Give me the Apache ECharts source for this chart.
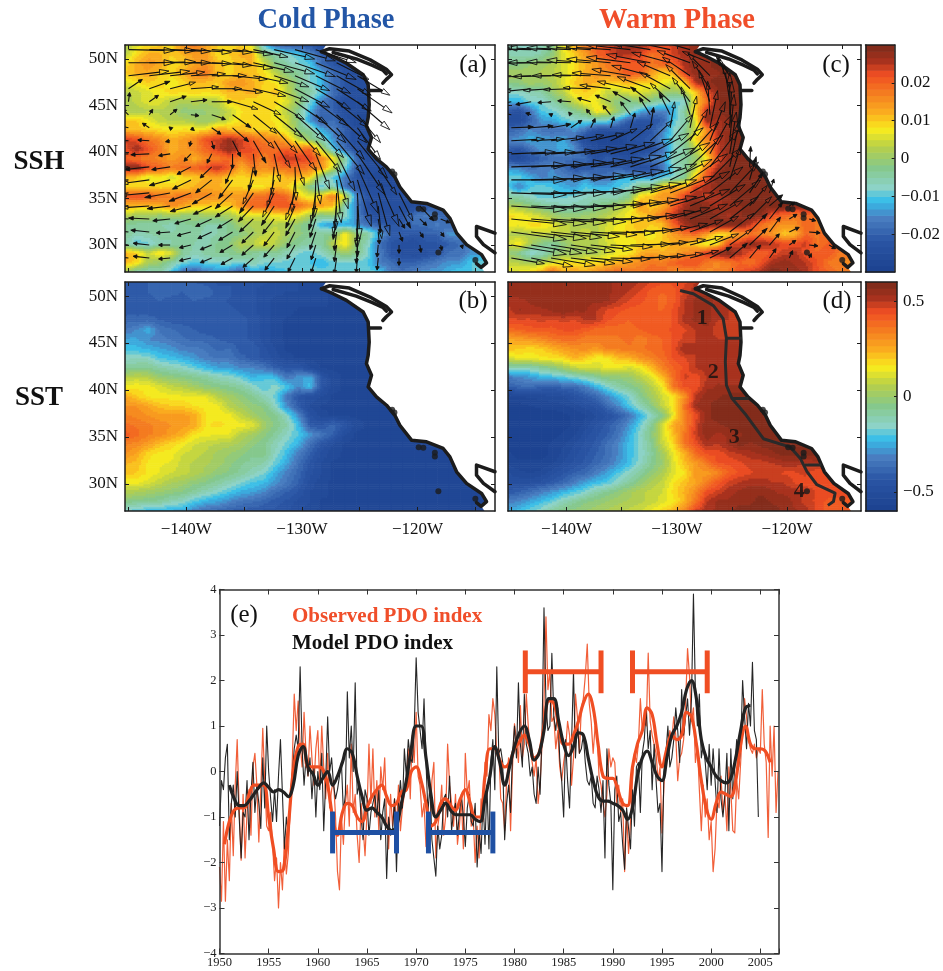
<!DOCTYPE html>
<html><head><meta charset="utf-8">
<script src="https://cdn.jsdelivr.net/npm/echarts@6/dist/echarts.min.js"></script>
<style>html,body{margin:0;padding:0;background:#fff}#c{width:943px;height:971px}</style>
</head><body><div id="c"></div>
<script>
// SSH anomaly in mm on a 1 deg lon x ~1 deg lat grid, north to south. Short rows stop at the coast.
const sshCold=[
[2,6,9,10,9,15,18,13,10,9,10,6,-10,-18,-20,-20,-22,-25],
[3,9,12,12,10,12,14,14,9,10,12,12,-1,-4,-8,-10,-14,-20,-22],
[9,12,15,13,9,10,13,15,11,9,11,12,6,-2,-5,-8,-10,-18,-22,-24,-25],
[10,12,13,10,9,12,16,18,11,9,12,11,9,4,-2,-3,-8,-12,-18,-22,-24],
[6,8,10,9,7,9,12,11,10,14,15,12,10,8,3,-3,-8,-12,-18,-22,-25],
[3,4,6,8,9,9,9,9,9,12,11,13,9,11,4,-2,-4,-10,-18,-22,-25],
[2,4,6,6,3,2,3,2,3,9,10,8,9,9,6,0,-8,-16,-20,-24,-25],
[3,2,3,3,2,-1,-1,0,1,4,8,10,9,8,3,-3,-12,-20,-20,-24,-25],
[10,10,7,4,3,3,1,0,2,5,9,10,9,8,5,-2,-14,-20,-18,-22,-26],
[12,11,10,9,8,9,9,9,14,12,11,10,10,9,6,-2,-3,-12,-16,-20,-25],
[24,22,18,16,12,14,16,22,24,27,24,20,17,16,12,4,-1,-6,-14,-20,-25],
[22,27,22,18,12,14,16,20,24,28,24,22,20,19,21,17,20,4,-10,-18,-24,-26],
[20,18,17,16,14,16,12,16,17,20,17,21,16,21,25,24,23,16,8,-4,-18,-24,-25],
[28,29,22,20,17,19,20,22,26,21,12,17,15,17,19,19,17,15,5,-8,-20,-24,-25,-25],
[12,10,6,8,5,9,10,12,13,10,9,10,10,8,12,12,9,-4,-10,-16,-22,-25,-26,-26,-26],
[9,9,10,9,10,10,12,13,12,10,10,8,8,12,10,5,-2,-10,-5,-18,-22,-25,-25,-25,-25,-25],
[21,22,21,18,17,18,17,16,15,14,14,18,19,22,19,10,6,10,18,6,-16,-22,-25,-25,-25,-25,-25],
[12,11,11,12,16,14,10,10,10,10,15,20,20,21,22,19,15,14,11,-6,-16,-24,-25,-25,-25,-25,-22,-20],
[3,2,2,0,2,0,0,1,1,2,5,6,6,8,9,7,2,-2,0,-6,-15,-22,-25,-25,-22,-18,-16,-18,-20],
[-3,-4,-4,-5,-6,-4,-3,-5,-5,-3,1,2,2,3,2,-1,-4,-12,-14,-12,-14,-18,-20,-22,-20,-18,-18,-16,-18,-18],
[-3,-6,-5,-4,-5,-4,-4,-6,-5,-3,-2,1,3,5,1,-1,-3,-4,-2,8,0,-4,-12,-20,-20,-22,-20,-20,-14,-14,-16],
[-5,-10,-9,-6,-5,-4,-5,-6,-3,-2,3,3,7,3,-1,-3,-5,-4,3,9,-1,-7,-18,-22,-24,-25,-22,-22,-20,-18,-16],
[12,10,4,9,6,-3,-6,-4,-3,-3,-1,-3,-5,-3,-6,-8,-10,-7,-3,1,-2,-8,-16,-22,-24,-25,-24,-22,-18,-18,-14,-14,-14],
[12,9,2,0,-4,-8,-10,-9,-8,-7,-9,-5,-8,-8,-9,-10,-10,-12,-9,-9,-9,-10,-16,-18,-20,-20,-18,-16,-14,-14,-10,-9,-9],
[2,-5,-6,-5,-10,-18,-20,-16,-15,-16,-20,-13,-14,-12,-10,-10,-9,-9,-9,-9,-8,-9,-10,-16,-18,-16,-14,-14,-12,-10,-10,-9,-9]
];
const sshWarm=[
[-6,-7,-7,-6,-3,7,12,18,20,23,26,28,27,25,22,24,26,28,30],
[-5,-6,-6,-5,-1,6,10,14,20,22,26,25,23,18,20,24,26,28,28,29],
[-3,-2,0,1,2,6,8,12,14,18,20,20,22,18,20,20,26,28,28,29,30],
[2,1,1,2,3,5,9,12,15,15,18,22,20,14,9,12,24,28,28,28,29,30],
[-2,-1,1,0,2,6,10,12,12,10,10,12,9,10,8,5,10,26,28,29,29,30],
[-8,-7,-6,-5,0,3,9,10,8,4,4,6,6,4,1,0,2,10,22,28,30,30],
[-12,-12,-8,-8,-5,-1,4,8,7,2,-2,-3,0,-3,-6,-9,-8,9,18,28,30,30],
[-22,-24,-18,-10,-9,-6,-3,0,9,6,0,-6,-12,-16,-16,-12,-4,10,26,28,30,30],
[-24,-25,-20,-14,-13,-10,-8,-8,-8,-8,-14,-20,-22,-22,-20,-10,-5,6,28,26,28,30],
[-20,-18,-15,-17,-18,-18,-14,-18,-23,-24,-24,-26,-26,-22,-16,-8,-4,4,16,26,28,30,30],
[-15,-14,-12,-13,-14,-12,-18,-25,-27,-28,-28,-24,-22,-20,-14,-8,-3,10,16,24,28,30],
[-20,-22,-18,-14,-14,-12,-14,-22,-26,-28,-28,-28,-26,-24,-18,-8,-4,2,13,24,28,30,30],
[-24,-26,-22,-20,-18,-18,-18,-18,-24,-20,-22,-24,-20,-16,-14,-6,-4,0,8,22,28,30,30],
[-14,-15,-18,-16,-15,-18,-22,-22,-20,-20,-20,-22,-24,-24,-18,-8,-4,3,18,26,30,30,30,30],
[-9,-9,-12,-16,-14,-15,-16,-14,-18,-17,-12,-12,-12,-14,-10,-8,-3,10,22,30,30,30,30,30],
[-10,-16,-10,-9,-10,-12,-14,-10,-12,-12,-10,-8,-2,-1,10,13,12,23,26,28,30,30,30,30,30],
[-4,-5,-7,-10,-9,-9,-8,-7,-6,-6,-6,-2,9,11,15,15,24,27,24,26,28,30,30,30,30,30,30],
[2,1,-1,-3,-5,-6,-6,-5,-3,-1,2,5,15,10,12,20,26,30,28,26,28,28,30,30,29,30,28],
[9,8,6,4,1,-1,-1,0,1,3,5,8,10,13,18,24,30,30,30,28,26,28,30,28,22,20,18,20,18],
[8,7,9,9,7,4,3,3,3,5,7,9,12,10,11,20,26,30,30,30,30,29,24,18,16,15,15,20,18],
[3,2,3,4,4,4,3,4,3,6,8,9,9,7,10,14,18,20,14,8,9,14,18,17,15,10,12,20,18,20],
[5,9,2,-2,-4,-1,2,3,3,5,7,7,9,9,10,12,12,9,6,8,22,24,28,27,25,22,22,24,18,20],
[0,-3,-8,-7,-2,0,1,1,2,5,7,8,12,14,12,13,16,18,24,28,30,26,22,20,22,24,26,22,20,22,18],
[4,3,1,3,5,8,8,9,9,10,12,14,16,18,17,20,22,22,18,16,18,20,18,22,26,28,26,25,22,18,17,15],
[6,7,9,12,20,12,14,12,15,18,20,18,18,20,20,16,16,17,16,17,18,22,24,26,30,28,28,26,22,20,18,17,15]
];
// SST anomaly in hundredths of a degree.
const sstCold=[
[-40,-40,-40,-40,-40,-40,-40,-42,-44,-44,-46,-46,-46,-48,-50,-50,-50,-52],
[-42,-42,-40,-38,-38,-40,-38,-36,-42,-42,-46,-46,-48,-48,-50,-50,-52,-52,-54,-54],
[-42,-42,-42,-40,-42,-42,-40,-42,-42,-44,-46,-46,-48,-52,-52,-52,-52,-52,-54,-54,-54],
[-42,-42,-42,-42,-42,-42,-40,-42,-40,-42,-44,-46,-48,-52,-52,-54,-54,-54,-54,-54,-54],
[-38,-38,-38,-40,-42,-42,-42,-42,-42,-42,-42,-44,-48,-52,-54],
[-34,-30,-24,-34,-36,-38,-40,-42,-42,-40,-42,-44,-48,-52,-54],
[-26,-26,-30,-32,-34,-36,-38,-38,-40,-42,-42,-44,-48,-52,-54],
[-22,-22,-24,-26,-28,-32,-32,-34,-38,-36,-42,-40,-46,-50,-54],
[-14,-14,-14,-20,-22,-24,-28,-32,-34,-34,-38,-42,-44,-48,-52,-54],
[-8,-6,-6,-10,-12,-14,-18,-22,-26,-26,-30,-30,-34,-40,-44,-42,-50,-54],
[6,8,6,0,-2,-4,-6,-8,-12,-14,-18,-24,-20,-22,-34,-28,-24,-44,-52,-54],
[14,16,15,12,8,6,2,-2,-4,-6,-8,-14,-20,-14,-20,-30,-22,-44,-52,-54],
[26,20,16,15,15,14,14,13,6,2,-2,-6,-12,-18,-34,-44,-48,-50,-54],
[30,30,26,22,20,20,16,16,15,6,2,-2,-4,-14,-30,-42,-50,-54],
[34,32,30,28,28,28,26,16,15,15,8,2,-2,-6,-14,-30,-46,-52,-54],
[38,36,34,32,30,28,26,16,18,16,15,13,2,-4,-10,-22,-42,-44,-38,-44,-52,-54],
[42,38,34,32,28,24,16,14,14,13,6,2,-2,-8,-14,-20,-28,-34,-40,-50,-54],
[34,32,28,22,18,15,10,8,6,5,2,-2,-6,-12,-18,-24,-36,-44,-50,-54],
[30,26,18,15,15,10,8,6,2,0,-2,-6,-4,-14,-22,-32,-40,-48,-52,-54],
[24,22,16,14,13,8,6,4,2,-2,-6,-8,-10,-18,-26,-36,-44,-50,-54],
[22,20,16,13,10,8,6,2,-2,-4,-8,-12,-16,-24,-32,-38,-46,-50,-54],
[14,15,12,8,4,2,-2,-4,-8,-12,-16,-20,-22,-28,-34,-40,-48,-52,-54],
[6,4,2,0,-2,-4,-8,-12,-16,-20,-24,-26,-30,-36,-40,-44,-50,-52,-54],
[-4,-6,-6,-8,-12,-14,-20,-24,-26,-30,-34,-36,-38,-42,-44,-48,-50,-54],
[-14,-20,-22,-24,-24,-26,-32,-36,-38,-40,-42,-42,-44,-44,-46,-50,-52,-54]
];
const sstWarm=[
[54,56,56,56,56,56,56,54,54,54,52,52,50,46,44,44,46,50,50,50],
[54,56,56,56,56,56,56,54,54,54,52,50,46,42,40,42,48,52,52,52,52],
[52,52,54,56,56,56,54,54,54,54,50,46,44,42,38,42,50,54,56,52,52],
[48,54,52,52,54,56,54,54,50,46,44,42,42,40,40,44,50,54,56,50,50,48],
[46,46,46,48,46,48,46,50,50,44,42,40,42,42,40,44,52,54,56,50,50,50],
[38,40,42,42,42,44,44,42,38,38,38,38,40,42,42,44,46,50,52,48,48],
[26,28,30,32,36,38,38,34,36,36,36,38,34,38,40,44,48,50,52,50,50],
[22,20,18,20,24,28,30,32,28,34,34,36,36,38,40,44,54,50,52,50,50],
[10,14,14,16,16,18,24,20,15,15,22,24,30,34,38,44,46,50,52,50,50],
[-12,-12,-12,-8,-4,2,8,10,10,15,14,10,14,22,34,40,44,50,52,52,52],
[-34,-30,-28,-24,-22,-20,-16,-12,-8,-2,-2,0,6,12,22,38,48,44,50,52,50],
[-40,-38,-36,-40,-42,-38,-38,-32,-24,-16,-10,-6,-2,6,14,36,44,44,52,54,54],
[-55,-54,-52,-52,-50,-50,-46,-42,-38,-30,-22,-16,-6,2,10,16,30,50,56,56,58,58],
[-58,-58,-57,-56,-56,-54,-52,-48,-46,-38,-30,-20,-12,-4,8,16,36,54,56,58,58,58,58],
[-58,-58,-58,-58,-58,-58,-56,-54,-50,-46,-42,-34,-24,-14,-4,14,34,44,56,58,58,58,58,58],
[-58,-58,-58,-58,-58,-58,-56,-52,-46,-42,-36,-28,-18,-6,10,26,32,48,56,56,58,58,58,58,58],
[-58,-58,-58,-58,-58,-56,-54,-48,-44,-40,-34,-24,-14,-4,10,22,36,48,56,52,54,56,58,58,58,58],
[-58,-58,-58,-58,-56,-54,-50,-46,-42,-36,-30,-22,-16,-6,8,18,36,44,52,50,54,58,56,58,58,58,58],
[-56,-58,-58,-58,-56,-52,-48,-44,-40,-36,-30,-22,-16,-8,2,14,24,38,44,44,48,50,52,54,56,58,58,58,58],
[-54,-56,-56,-56,-54,-50,-46,-42,-38,-34,-28,-22,-14,-6,0,12,22,28,36,44,44,46,48,48,50,52,52,50,52,48],
[-50,-52,-54,-52,-48,-44,-40,-38,-32,-26,-20,-14,-8,-2,4,12,16,30,28,32,40,44,46,48,48,46,46,48,44,46],
[-48,-48,-48,-46,-42,-38,-32,-26,-22,-20,-14,-8,-2,4,8,16,22,26,34,42,48,50,52,52,50,50,46,44,44,46],
[-42,-40,-36,-32,-28,-24,-20,-16,-10,-6,-2,2,6,8,10,18,24,32,44,48,52,54,56,56,54,52,52,50,46,46],
[-32,-30,-26,-22,-18,-12,-8,-4,-2,0,2,4,6,8,12,15,24,36,50,54,54,56,56,58,56,56,52,48,46,42],
[-26,-22,-18,-14,-8,-4,-2,0,2,4,6,8,10,14,18,24,32,48,52,54,56,58,58,58,58,56,54,52,46,42]
];
// Wind arrows: [dLon, dLat] per tail, rows every 1.4 deg lat from 51N, columns every 1.8 deg lon from 145W.
const windCold=[
[[4,-.1],[4,-.1],[3.5,-.2],[3.5,-.3],[3.5,-.3],[3.5,-.5],[3,-.8],[3.5,-1],[3.5,-1.2],[3.5,-1.4]],
[[4,0],[4,.1],[3.5,0],[3.5,-.1],[3.5,-.3],[3.5,-.6],[3.5,-1],[3.5,-1.2],[3.5,-1.5],[3.5,-1.8],[2.8,-1.8]],
[[3.5,.5],[3.5,.5],[3,.4],[3,.2],[3,0],[3,-.4],[3,-.8],[3,-1.2],[3,-1.6],[3,-1.9],[3,-2.1],[2.8,-2.1]],
[[1.2,1],[1.8,.8],[2.2,.7],[2.4,.2],[2.6,0],[2.6,-.4],[2.8,-.8],[3,-1.4],[3,-2],[3,-2.2],[3,-2.4],[3,-2.6]],
[[.1,1],[.8,.7],[1.4,.6],[1.4,.2],[1.8,0],[2.2,-.8],[2.4,-1.4],[2.6,-1.9],[2.8,-2.4],[2.8,-2.6],[2.8,-2.8],[2.8,-3]],
[[-.5,.6],[.3,.6],[.6,.6],[.7,-.1],[1.2,-.5],[1.6,-1.4],[2,-2],[2.4,-2.4],[2.6,-2.8],[2.6,-3],[2.6,-3],[2,-3]],
[[-1,.3],[-.6,.5],[-.1,.1],[.3,-.3],[.8,-.7],[1.4,-1.5],[1.8,-2.2],[2,-2.7],[2.2,-3],[2.4,-3.2],[2.4,-3.4],[2,-3.4]],
[[-1.6,.1],[-1,.1],[-.4,-.1],[-.1,-.6],[.2,-.9],[.7,-1.7],[1.1,-2.4],[1.4,-2.9],[1.8,-3.2],[2.2,-3.4],[2.4,-3.6],[2.6,-4]],
[[-2.4,-.1],[-1.6,-.1],[-1,-.2],[-.6,-.8],[-.4,-1],[0,-1.6],[.2,-2.4],[.5,-3],[.8,-3.4],[1.2,-3.8],[1.6,-4],[2.4,-4.4]],
[[-2.6,-.2],[-2.2,-.3],[-1.6,-.3],[-1.2,-.8],[-1,-1.2],[-.6,-1.8],[-.4,-2.6],[-.2,-3],[.1,-3.6],[.4,-4],[1,-4.5],[1.8,-5],[1.6,-3]],
[[-3,-.2],[-2.4,-.4],[-1.8,-.6],[-1.6,-1],[-1.4,-1.4],[-1.2,-2],[-.9,-2.6],[-.6,-3],[-.3,-3.4],[-.1,-4],[.4,-4.6],[1.2,-5],[1.8,-5]],
[[-3,-.3],[-2.6,-.3],[-2.2,-.5],[-1.9,-.9],[-1.7,-1.2],[-1.5,-1.7],[-1.2,-2.2],[-1,-2.6],[-.8,-2.9],[-.4,-3.2],[-.1,-4],[.2,-5],[1,-4.6],[1.2,-3]],
[[-3,-.2],[-2.4,-.2],[-2,-.3],[-1.8,-.6],[-1.6,-.9],[-1.5,-1.2],[-1.3,-1.7],[-1.1,-2.1],[-.8,-2.4],[-.6,-2.6],[-.3,-3],[0,-4.5],[.3,-3.5],[1,-2.4],[1.2,-1.6]],
[[-2.4,.2],[-1.8,.1],[-1.5,-.2],[-1.4,-.5],[-1.4,-.8],[-1.3,-1],[-1.2,-1.4],[-1,-1.6],[-.8,-1.8],[-.5,-2],[-.3,-2.2],[-.1,-3],[.2,-1.5],[.5,-1],[.6,-.7],[.8,-.4]],
[[-2,.3],[-1.6,.2],[-1.2,-.1],[-1.2,-.4],[-1.2,-.7],[-1.2,-.9],[-1,-1.2],[-.9,-1.5],[-.7,-1.7],[-.5,-1.9],[-.2,-2],[0,-2.7],[.1,-1.3],[.3,-1],[.3,-.6],[.3,-.5]],
[[-2,.3],[-1.4,.2],[-1,0],[-1,-.3],[-1,-.5],[-1.1,-.8],[-1,-1.1],[-.9,-1.3],[-.7,-1.5],[-.4,-1.6],[-.2,-1.8],[-.1,-2],[-.1,-1.3],[0,-.9],[.1,-.8],[.1,-.6],[.1,-.4]],
[[-2.2,.3],[-1.4,.2],[-1,-.1],[-1,-.3],[-1,-.5],[-1,-.7],[-.9,-1],[-.8,-1.3],[-.6,-1.5],[-.4,-1.6],[-.2,-1.7],[-.1,-1.6],[-.1,-1.3],[0,-.8]]
];
const windWarm=[
[[-4,.1],[-4,.1],[-4,.2],[-4,.2],[-4,.3],[-4,.3],[-4,.5],[-3.5,.7],[-3.5,.9],[-3,1]],
[[-4,-.1],[-4,-.1],[-4,0],[-4,.1],[-4,.3],[-4,.4],[-4,.6],[-4,.9],[-3.5,1.1],[-3,1.3],[-2.5,1.2]],
[[-3.5,-.1],[-3.5,-.2],[-3.5,-.1],[-3.5,0],[-3.5,.1],[-3.5,.3],[-3.5,.7],[-3.5,1.1],[-3,1.5],[-2.5,2],[-2,2.4],[-1.2,2]],
[[-2.5,-.3],[-2.5,-.3],[-2.5,-.2],[-2.5,-.1],[-2.5,.1],[-2.8,.4],[-3,.8],[-3,1.3],[-2.8,1.8],[-2.2,2.6],[-1.6,3],[-1,3.4]],
[[-1.4,-.3],[-1.4,-.3],[-1.2,-.1],[-1.2,.1],[-1.2,.4],[-1.4,.7],[-1.6,1.1],[-1.8,1.6],[-1.8,2],[-1.6,2.6],[-1,3.4],[-.5,4]],
[[-.8,.2],[-.5,.2],[-.2,.1],[-.2,.3],[-.4,.6],[-.7,1],[-.9,1.4],[-1,1.9],[-1,2.4],[-.8,3],[-.2,3.6],[0,4.5]],
[[2,.1],[2,.2],[1.8,.4],[1,.8],[.4,1],[.3,1.2],[.4,1.6],[.3,2.2],[.4,2.8],[.6,3.4],[.7,4],[.2,5]],
[[3,.2],[3,.2],[3,.4],[3,.6],[3,.8],[2.4,1.3],[2,1.8],[2,2.2],[2,2.8],[1.6,3.4],[1.4,4.2],[.4,5]],
[[4,.2],[4,.2],[4,.3],[4.2,.6],[4.2,.9],[4,1.2],[3.8,1.6],[3.5,2.2],[3,2.8],[2.6,3.4],[2,4.2],[.6,4.5]],
[[5,.2],[5,.3],[5,.5],[5,.7],[4.8,.9],[4.6,1.2],[4.2,1.6],[4,2],[3.6,2.6],[3,3.4],[2.6,4],[.9,5],[.1,2.2]],
[[5,0],[5,.2],[5,.3],[5,.5],[5,.8],[4.8,1],[4.6,1.3],[4.2,1.7],[3.8,2.2],[3.4,2.8],[2.8,3.4],[1,3.6],[.6,2.5]],
[[5,-.2],[5,-.1],[5,0],[5,.2],[5,.4],[4.8,.7],[4.6,1],[4.2,1.4],[4,1.8],[3.6,2.3],[3,2.8],[2.6,3.3],[1.2,2.2],[.4,1.5]],
[[5,-.4],[5,-.3],[5,-.2],[5,-.1],[5,.2],[4.6,.4],[4.4,.7],[4.2,1],[4,1.4],[3.6,1.8],[3.2,2.3],[2.8,2.8],[1.6,2.2],[1.2,1.2],[.5,.4]],
[[5,-.6],[5,-.5],[5,-.4],[5,-.3],[4.8,-.1],[4.4,.1],[4.2,.4],[4,.8],[3.6,1.2],[3.4,1.6],[3,2],[2.6,2.4],[2,2.4],[1.2,1.8],[.7,.5],[.6,-.2]],
[[5,-.8],[5,-.7],[4.6,-.6],[4.4,-.5],[4.2,-.3],[4,-.1],[3.8,.2],[3.6,.5],[3.4,.9],[3,1.3],[2.6,1.7],[2.2,2],[1.6,2],[1,1.6],[.9,.5],[1,-.1]],
[[5,-1],[4.6,-.9],[4.2,-.8],[4,-.7],[3.8,-.5],[3.8,-.2],[3.6,.1],[3.4,.3],[3.2,.6],[3,.9],[2.6,1.2],[2,1.7],[1.6,1.8],[.9,1.2],[.6,.5],[.8,-.1],[.6,-.4]],
[[3,-.6],[3.8,-.9],[4,-.8],[4,-.6],[3.8,-.4],[3.6,-.1],[3.4,.1],[3.2,.3],[3,.5],[2.6,.8],[2,1.2],[1.6,1.6],[1,1.4],[.6,1],[.3,.8],[.2,.5]]
];
// Coastline in lon/lat
const coast=[[-128.31,50.78],[-127.30,50.25],[-126.15,49.54],[-124.70,48.30],[-124.27,47.23],[-124.18,45.10],[-124.27,43.69],[-124.42,42.80],[-123.98,41.56],[-124.27,40.32],[-123.55,39.26],[-122.68,38.37],[-121.96,37.30],[-121.53,36.24],[-120.52,34.65],[-119.22,34.47],[-117.78,33.76],[-117.20,32.87],[-116.62,31.28],[-115.76,30.04],[-114.46,28.97],[-114.03,28.09],[-114.5,27.6],[-114.9,28.0]];
const landClose=[[-114.5,27.6],[-114.2,27.1],[-113.3,27.1],[-113.3,51.5],[-127.9,51.5]];
const islandOuter=[[-128.31,50.78],[-127.6,51.1],[-125.9,50.85],[-124.1,49.9],[-122.7,48.9],[-122.25,48.3],[-122.7,47.8],[-123,47.4]];
const islandInner=[[-127.3,50.7],[-125.3,50.0],[-123.9,49.3],[-123,48.8],[-122.7,48.4]];
const gulfCoast=[[-113.3,31.28],[-114.9,31.99],[-114.9,30.92],[-114.3,30.04],[-113.3,29.15]];
const coastStub=[[-124.2,46.6],[-123.2,46.6]];
const coastBlobs=[[-122.2,37.9],[-122.0,37.6],[-119.9,33.9],[-119.5,33.85],[-118.5,33.3],[-118.5,32.9],[-118.2,29.2],[-115,28.4]];
const regionLine=[[-129.7,50.6],[-128.5,50.25],[-126.7,49],[-125.8,47.6],[-125.5,45.5],[-125.6,43],[-125.5,40.5],[-125,39.1],[-123.7,37.3],[-122.15,34.8],[-119.7,33.9],[-118.8,32.7],[-118.2,31.3],[-117.3,29.9],[-115.65,29],[-115.8,28.1],[-116.3,27.7]];
const regionCuts=[[[-125.5,45.5],[-124.1,45.5]],[[-125,39.1],[-123.5,39.1]],[[-118.4,32],[-116.9,32]]];
const regionLabels=[[-127.7,47.6,'1'],[-126.7,41.9,'2'],[-124.8,34.9,'3'],[-118.9,29.2,'4']];
// PDO index, five readings per year from 1950
const obsThin=[-2.1,-2.85,-1.1,-2.85,-1.5,-2.4,-.7,-1.85,-.3,.7,-.8,-1.95,-.5,-1.9,-.9,-.4,-1.4,.1,.4,-.3,-1.55,-.4,.95,-.2,-1.2,-1.3,-.9,-1.6,-2.4,-1.9,-3,-2,-2.6,-1.5,-2.25,-1.8,-.8,.2,1.7,.9,1.55,.6,.1,1.3,.4,-.1,1,.3,-.3,.5,.9,-.3,1,.1,-.6,.4,-.8,-.4,-.2,-1,-2.2,-2.6,-1,-1.6,-.7,-.3,-1.2,.6,-.9,-.5,-1.4,-2,-.7,-1.2,-1.85,-.9,.6,-.7,.5,-1,-.2,-1.3,.1,-.4,.3,-1,-1.7,-.5,-1.2,-.6,-1.2,-.3,-1.3,-.8,-.5,-.2,.5,-.6,.8,.2,1.3,-.1,-.3,-1,-.7,-1.65,-1.2,-1.5,-.2,.2,-1.9,-1.2,-.9,-.3,-1.4,-1,.6,-.3,-.7,-1.2,-.5,-1.6,-1.2,-.6,-1.7,.4,-.5,-.2,-1.2,-1,-2,-1.2,-1.9,-.6,-1.1,.2,-.1,1.25,.9,1.6,1.25,.4,.5,-.6,-.7,-1.3,-.2,.3,-1.3,.1,1.05,.7,.2,1.45,.3,.6,1.7,1,.5,.2,-.1,.3,-.7,-.3,.6,1.5,3.4,1.8,2.2,1.1,1.2,.5,.9,.1,-.2,.2,.5,1.1,.8,-.3,.3,1.7,1.2,.4,1.4,1.6,2.1,2.8,1.5,1.1,.4,1,.8,-.1,-.3,-.7,-1,-.5,.5,.1,.3,.2,-.7,-.3,-.9,-.6,-2.2,-.9,-1.8,-1.1,-.2,.4,.2,.6,1.6,.9,1.1,1,2.6,1.1,.8,.6,.4,-.2,.1,-1.35,-.3,.5,.6,.9,.7,1.2,.8,-.2,.3,.4,.7,1.5,2.7,2.1,1.1,1.4,.2,.6,-.4,-1.3,-.3,-1,-.6,-1.5,-1.1,-2.2,-1.7,-.6,-.8,-.1,-.9,-.5,-1.3,.1,-.4,-1.3,-1.35,-.2,-.6,.2,1,1.6,1.2,.7,.5,.4,.6,.3,.5,.4,1.8,.6,.2,-1.45,1,-.1,1,-.9,0];
const modelThin=[-1.2,-.2,-.4,.3,.6,-1.5,-.7,-.3,-1,0,-1,-1.9,-.9,-1,-.2,-1.5,-.5,.2,-.9,-.3,-.7,-1.25,.3,-.8,1,0,-.6,-1.1,-.4,-1.1,-.1,.7,-.5,-1.7,-1,-1.4,-.5,-.1,.5,.8,.5,2.3,.5,-.3,.3,-.1,.3,-.6,.1,-1,0,-.4,.4,-1.3,-.2,1.2,0,.3,-.3,-.6,-.4,-.1,.2,-.9,-.5,1.75,.3,1,0,1.95,-.5,-.3,-1,-1.5,-.4,-.6,-1.4,-.9,-.9,-.5,-1,-.4,-1.5,-.9,-.6,-2.35,-1,-1.4,-1.3,-.6,-2.2,-.7,-.2,-.8,.5,-.1,.7,.3,.2,.9,2.5,1.3,.9,.5,1.6,.2,-.9,-.3,-1.5,-1.9,-2.3,-1.2,-1.7,-1.4,-.6,-.5,-1,-.1,-1.3,-.9,-.7,-1.4,-.9,-.5,-1,-1.65,-.8,-.5,-1.1,-1.2,-.7,-2.1,-1.3,-1.8,-.6,-1.6,-.3,-1.7,.2,.7,-.4,2.3,.4,.5,.2,-1.5,-.7,-.3,-.9,.4,1,.3,1.95,.6,.1,1.7,.6,.4,-.1,.1,-.5,-.7,.1,-.5,.8,3.6,1.5,.9,1,2.6,1.2,.9,1.4,.3,-.2,-1,.7,-.2,-.8,.6,2.2,.3,1.1,.4,.5,.8,.2,-.2,-.3,-.1,-.7,-.8,-.1,-.4,-.9,-.2,-1.9,.5,-.3,-.7,-2.6,-.4,-.1,-1.1,-.9,-1.6,-2.15,-.8,-.8,-1.7,-.4,-1.2,.1,.2,-.9,.4,.7,1.4,.5,.9,-.4,.6,-.2,-.9,-.7,-2.2,0,.4,1,.1,.3,.7,1.4,.9,.2,1.8,.8,1.2,1.6,.8,1.6,3.9,1.7,1,1.7,.3,.6,.2,-.4,.6,-.3,.5,-.2,-.9,.5,-.6,-1,-.5,.4,-1.3,.5,-.6,.1,.7,.1,.5,2,1.2,.5,1.5,1,2.4,.9,.7,-1];
// Smoothed index, two readings per year
const obsSmooth=[-1.6,-1.1,-.85,-.8,-.8,-.5,-.3,-.3,-.3,-1,-1.7,-2.2,-2.15,-1.2,0,.55,.6,.1,.1,.1,.05,-.3,-1,-1.4,-.9,-.7,-.75,-1,-1.1,-.8,-.55,-.4,-.3,-.55,-.75,-.7,-.45,-.4,0,.1,-.2,-.7,-1.2,-1.1,-.7,-.6,-.75,-.85,-.6,-.4,-.7,-1,-1,-.1,.5,.5,.25,.1,.2,.5,.65,.8,.6,.3,.4,1,1.55,1.5,1,.6,.6,.8,1.1,1.5,1.7,1.4,.6,-.1,-.15,-.15,-.4,-.7,-.75,.1,.6,.9,1.4,1.25,.6,.1,.5,.8,.7,.8,1.3,1.2,.6,-.2,-.8,-1.05,-.7,-.45,-.5,-.55,-.2,.6,1,.6,.5,.5,.45,.2];
const modelSmooth=[-.3,-.6,-.75,-.75,-.65,-.5,-.35,-.25,-.35,-.45,-.4,-.45,-.55,-.3,.35,.55,.1,-.05,-.3,-.15,0,-.3,-.1,.2,.5,.4,-.1,-.55,-.85,-.8,-.9,-1,-1.2,-1.3,-1.2,-.7,-.2,.5,1,1,.3,-.5,-1,-.85,-.7,-.85,-.95,-.95,-.95,-.95,-1.05,-1.1,-.6,-.1,.55,.2,-.3,.1,.55,.85,1,.7,.25,.4,.9,1.6,1.6,1.1,.6,.35,.55,.85,.8,.3,-.2,-.55,-.65,-.65,-.7,-.75,-.85,-1.05,-.8,-.1,.3,.45,.2,-.1,-.2,.3,.8,1,1.3,1.8,2,1.6,.7,.3,.1,-.1,-.2,-.25,-.15,.3,.9,1.4,1.45];
// Phase brackets: [start, end, level, capHalfHeight]
const coldBars=[[1961.5,1968,-1.34,.46],[1971.25,1977.8,-1.34,.46]];
const warmBars=[[1981.1,1988.8,2.19,.47],[1992,1999.6,2.19,.47]];
// Tick positions
const lonTicks=[-145,-140,-135,-130,-125,-120,-115];
const lonLabels=[-140,-130,-120];
const latTicks=[30,35,40,45,50];
const sshBarTicks=[-.02,-.01,0,.01,.02];
const sstBarTicks=[-.5,0,.5];

const COLOR_STOPS=[[0,'#1c418f'],[.14,'#2a55a4'],[.24,'#4a7fc1'],[.315,'#35bdea'],[.375,'#8dd3c7'],[.46,'#85c88c'],[.55,'#b5cf4b'],[.63,'#f8ec1d'],[.7,'#fbb01f'],[.78,'#f58220'],[.87,'#f04e23'],[.93,'#a8321e'],[1,'#7a2a1a']];
const hex=s=>[1,3,5].map(k=>parseInt(s.substr(k,2),16));
function ramp(t){for(let k=1;k<COLOR_STOPS.length;k++){if(t<=COLOR_STOPS[k][0]){const a=COLOR_STOPS[k-1],b=COLOR_STOPS[k],f=(t-a[0])/(b[0]-a[0]),A=hex(a[1]),B=hex(b[1]);return 'rgb('+A.map((x,i)=>Math.round(x+(B[i]-x)*f)).join(',')+')';}}return COLOR_STOPS[COLOR_STOPS.length-1][1];}
const NL=36,BANDS=[];for(let k=0;k<NL;k++)BANDS.push(ramp((k+.5)/NL));
const bandOf=(v,r)=>Math.max(0,Math.min(NL-1,Math.floor((v+r)/(2*r)*NL)));

const LON0=-145.3,LON1=-113.3,LAT1=51.5,LAT0=27.1,LATSTEP=(LAT1-LAT0)/24;
const FONT='"Liberation Serif"';
const INK='#1c1c1c';
const grids=[
 {left:125,top:45,width:370,height:227},{left:125,top:282,width:370,height:229},
 {left:508,top:45,width:353,height:227},{left:508,top:282,width:353,height:229},
 {left:865.5,top:45,width:31.5,height:227},{left:865.5,top:282,width:31.5,height:229},
 {left:219.5,top:589.5,width:559.5,height:364}];
const xAxes=[],yAxes=[],series=[];
const MINUS='\u2212';
function mapAxes(g,showLat,showLon){
 const base={type:'value',gridIndex:g,z:10,splitLine:{show:false},axisLine:{show:true,onZero:false,lineStyle:{color:INK,width:1.5}}};
 const tick=v=>({show:true,inside:true,length:4,customValues:v,lineStyle:{color:INK}});
 const xi=xAxes.length;
 xAxes.push({...base,position:'bottom',min:LON0,max:LON1,axisTick:tick(lonTicks),axisLabel:{show:showLon,customValues:lonLabels,color:'#111',fontFamily:FONT,fontSize:17,margin:10,
   formatter:v=>MINUS+Math.abs(v)+'W'}});
 xAxes.push({...base,position:'top',min:LON0,max:LON1,axisTick:tick(lonTicks),axisLabel:{show:false}});
 const yi=yAxes.length;
 yAxes.push({...base,position:'left',min:LAT0,max:LAT1,axisTick:tick(latTicks),axisLabel:{show:showLat,customValues:latTicks,color:'#111',fontFamily:FONT,fontSize:17,margin:7,
   formatter:v=>v+'N'}});
 yAxes.push({...base,position:'right',min:LAT0,max:LAT1,axisTick:tick(latTicks),axisLabel:{show:false}});
 return [xi,yi];
}
function coastCol(j){const lat=LAT1-j*LATSTEP;let m=-129;for(const c of coast)if(Math.abs(c[1]-lat)<2.4)m=Math.max(m,c[0]);return Math.min(32,Math.ceil(m-LON0)+1);}
function contour(rows,r,xi,yi){
 const n=5,cells=[];
 const val=(i,j)=>{const R=rows[j];return R[Math.min(i,R.length-1)];};
 for(let j=0;j<24;j++){const lim=Math.max(coastCol(j),coastCol(j+1));for(let i=0;i<lim;i++)cells.push([i,j]);}
 series.push({type:'custom',xAxisIndex:xi,yAxisIndex:yi,silent:true,clip:true,z:1,animation:false,data:cells,encode:{x:0,y:1},
  renderItem(p,api){
   const i=api.value(0),j=api.value(1),a=val(i,j),b=val(i+1,j),c=val(i,j+1),d=val(i+1,j+1),ch=[];
   const lon=LON0+i,lat=LAT1-j*LATSTEP;
   for(let q=0;q<n;q++){
    const w=(q+.5)/n;let s=0;
    while(s<n){
     const bandAt=t=>{const u=(t+.5)/n;return bandOf(a*(1-u)*(1-w)+b*u*(1-w)+c*(1-u)*w+d*u*w,r);};
     const k=bandAt(s);let e=s+1;while(e<n&&bandAt(e)===k)e++;
     const p0=api.coord([lon+s/n,lat-q*LATSTEP/n]),p1=api.coord([lon+e/n,lat-(q+1)*LATSTEP/n]);
     ch.push({type:'rect',shape:{x:p0[0],y:p0[1],width:p1[0]-p0[0]+.6,height:p1[1]-p0[1]+.6},style:{fill:BANDS[k]}});
     s=e;
    }
   }
   return {type:'group',children:ch};
  }});
}
function landAndCoast(xi,yi){
 series.push({type:'custom',xAxisIndex:xi,yAxisIndex:yi,silent:true,clip:true,z:2,animation:false,data:[[LON1,LAT1]],encode:{x:0,y:1},
  renderItem(p,api){return {type:'polygon',shape:{points:coast.concat(landClose).map(c=>api.coord(c))},style:{fill:'#fff'}};}});
 for(const l of [coast,islandOuter,islandInner,gulfCoast,coastStub])
  series.push({type:'line',xAxisIndex:xi,yAxisIndex:yi,silent:true,clip:true,z:4,animation:false,showSymbol:false,data:l,lineStyle:{color:INK,width:3.5,cap:'round',join:'round'}});
 series.push({type:'scatter',xAxisIndex:xi,yAxisIndex:yi,silent:true,z:4,animation:false,symbolSize:6,itemStyle:{color:INK},data:coastBlobs});
}
function arrows(rows,xi,yi){
 const data=[];
 rows.forEach((R,j)=>R.forEach((w,i)=>data.push([-145+1.8*i,51-1.4*j,w[0],w[1]])));
 series.push({type:'custom',xAxisIndex:xi,yAxisIndex:yi,silent:true,clip:true,z:5,animation:false,data,encode:{x:0,y:1},
  renderItem(p,api){
   const lo=api.value(0),la=api.value(1),a=api.coord([lo,la]),b=api.coord([lo+api.value(2),la+api.value(3)]);
   const dx=b[0]-a[0],dy=b[1]-a[1],L=Math.hypot(dx,dy)||1,ux=dx/L,uy=dy/L;
   const h=Math.max(3.5,.23*L),wd=Math.max(1.8,.065*L),bx=b[0]-ux*h,by=b[1]-uy*h;
   return {type:'group',children:[
    {type:'line',shape:{x1:a[0],y1:a[1],x2:bx,y2:by},style:{stroke:'#111',lineWidth:1.1}},
    {type:'polygon',shape:{points:[b,[bx-uy*wd,by+ux*wd],[bx+uy*wd,by-ux*wd]]},style:{fill:L<26?'#111':'none',stroke:'#111',lineWidth:.9}}
   ]};
  }});
}
function colorbar(g,max,ticks,fmt){
 const xi=xAxes.length,yi=yAxes.length;
 const ln={show:true,onZero:false,lineStyle:{color:INK,width:1.5}};
 xAxes.push({type:'value',gridIndex:g,min:0,max:1,show:false});
 yAxes.push({type:'value',gridIndex:g,position:'right',z:10,min:-max,max:max,splitLine:{show:false},
   axisLine:ln,axisTick:{show:true,inside:true,length:3,customValues:ticks,lineStyle:{color:INK}},
   axisLabel:{customValues:ticks,color:'#111',fontFamily:FONT,fontSize:17,margin:6,formatter:fmt}});
 const cells=[];for(let k=0;k<NL;k++)cells.push([0,-max+2*max*k/NL,k]);
 series.push({type:'custom',xAxisIndex:xi,yAxisIndex:yi,silent:true,animation:false,data:cells,encode:{x:0,y:1},
  renderItem(p,api){const k=api.value(2),y0=api.value(1),a=api.coord([0,y0]),b=api.coord([1,y0+2*max/NL]);
   return {type:'rect',shape:{x:a[0],y:b[1],width:b[0]-a[0],height:a[1]-b[1]+.6},style:{fill:BANDS[k]}};}});
 const blank={axisTick:{show:false},axisLabel:{show:false},splitLine:{show:false},axisLine:ln};
 xAxes.push({type:'value',gridIndex:g,min:0,max:1,position:'top',z:10,...blank});
 xAxes.push({type:'value',gridIndex:g,min:0,max:1,position:'bottom',z:10,...blank});
 yAxes.push({type:'value',gridIndex:g,position:'left',z:10,min:-max,max:max,...blank});
}
// panels
{let [x,y]=mapAxes(0,true,false);contour(sshCold,30,x,y);landAndCoast(x,y);arrows(windCold,x,y);}
{let [x,y]=mapAxes(1,true,true);contour(sstCold,60,x,y);landAndCoast(x,y);}
{let [x,y]=mapAxes(2,false,false);contour(sshWarm,30,x,y);landAndCoast(x,y);arrows(windWarm,x,y);}
{let [x,y]=mapAxes(3,false,true);contour(sstWarm,60,x,y);landAndCoast(x,y);
 for(const l of [regionLine,...regionCuts])series.push({type:'line',xAxisIndex:x,yAxisIndex:y,silent:true,clip:true,z:4,animation:false,showSymbol:false,data:l,lineStyle:{color:'#2a2a2a',width:3,join:'round'}});
 series.push({type:'scatter',xAxisIndex:x,yAxisIndex:y,silent:true,z:6,animation:false,symbolSize:0,data:regionLabels,
  label:{show:true,position:'inside',formatter:p=>p.data[2],fontFamily:FONT,fontWeight:'bold',fontSize:22,color:'#111'}});
}
const barFmt=(d)=>v=>{const a=Math.abs(v);if(a<1e-6)return '0';return (v<0?MINUS:'')+a.toFixed(d);};
colorbar(4,.03,sshBarTicks,barFmt(2));
colorbar(5,.6,sstBarTicks,barFmt(1));
// time series panel
{
 const g=6,xi=xAxes.length,yi=yAxes.length;
 const b={type:'value',gridIndex:g,z:10,splitLine:{show:false},axisLine:{show:true,onZero:false,lineStyle:{color:'#333',width:1.5}},axisTick:{show:true,inside:true,length:5,lineStyle:{color:'#333'}}};
 xAxes.push({...b,position:'bottom',min:1950,max:2006.9,interval:5,axisLabel:{color:'#222',fontFamily:FONT,fontSize:12.5,margin:3,formatter:v=>v%5===0?String(v):''}});
 xAxes.push({...b,position:'top',min:1950,max:2006.9,interval:5,axisLabel:{show:false}});
 yAxes.push({...b,position:'left',min:-4,max:4,interval:1,axisLabel:{color:'#222',fontFamily:FONT,fontSize:12.5,margin:3,formatter:v=>v<0?MINUS+(-v):String(v)}});
 yAxes.push({...b,position:'right',min:-4,max:4,interval:1,axisLabel:{show:false}});
 const ser=(vals,start,step)=>vals.map((v,i)=>[+(start+i*step).toFixed(2),v]);
 const line=(data,color,width,z,opacity)=>series.push({type:'line',xAxisIndex:xi,yAxisIndex:yi,silent:true,z,animation:false,showSymbol:false,clip:true,data,lineStyle:{color,width,opacity,join:'round'}});
 line(ser(obsThin,1950,.2),'#f04e23',1.2,2,.9);
 line(ser(modelThin,1950,.2),'#1a1a1a',1.1,3,.95);
 series.push({type:'line',xAxisIndex:xi,yAxisIndex:yi,silent:true,z:4,animation:false,showSymbol:false,smooth:.4,data:ser(obsSmooth,1950.5,.5),lineStyle:{color:'#f04e23',width:3.2}});
 series.push({type:'line',xAxisIndex:xi,yAxisIndex:yi,silent:true,z:5,animation:false,showSymbol:false,smooth:.4,data:ser(modelSmooth,1951,.5),lineStyle:{color:'#222',width:3.2}});
 const bars=(list,color)=>series.push({type:'custom',xAxisIndex:xi,yAxisIndex:yi,silent:true,z:6,animation:false,data:list,encode:{x:[0,1],y:2},
  renderItem(p,api){const s=api.value(0),e=api.value(1),l=api.value(2),h=api.value(3),A=api.coord([s,l]),B=api.coord([e,l]),t=api.coord([s,l+h]),d=api.coord([s,l-h]),t2=api.coord([e,l+h]),d2=api.coord([e,l-h]);
   const st={stroke:color,lineWidth:5};
   return {type:'group',children:[{type:'line',shape:{x1:A[0],y1:A[1],x2:B[0],y2:B[1]},style:st},{type:'line',shape:{x1:t[0],y1:t[1],x2:d[0],y2:d[1]},style:st},{type:'line',shape:{x1:t2[0],y1:t2[1],x2:d2[0],y2:d2[1]},style:st}]};}});
 bars(coldBars,'#1f50a3');bars(warmBars,'#f04e23');
}
const txt=(x,y,t,size,color,weight,align)=>({type:'text',x,y,z:20,silent:true,style:{text:t,fontFamily:FONT,fontSize:size,fill:color,fontWeight:weight||'normal',textAlign:align||'center',textVerticalAlign:'middle'}});
const graphic=[
 txt(326,21,'Cold Phase',28.5,'#2356a6','bold'),txt(677,21,'Warm Phase',28.5,'#f04e2a','bold'),
 txt(39,162,'SSH',27,'#111','bold'),txt(39,398,'SST',27,'#111','bold'),
 txt(473,65,'(a)',25,'#111'),txt(473,301,'(b)',25,'#111'),txt(836,65,'(c)',25,'#111'),txt(837,301,'(d)',25,'#111'),
 txt(244,615,'(e)',25,'#111'),
 txt(292,617,'Observed PDO index',21,'#f04e2a','bold','left'),txt(292,644,'Model PDO index',21,'#111','bold','left')
];
const chart=echarts.init(document.getElementById('c'),null,{renderer:'canvas'});
chart.setOption({animation:false,backgroundColor:'#fff',grid:grids,xAxis:xAxes,yAxis:yAxes,series,graphic});
</script></body></html>
